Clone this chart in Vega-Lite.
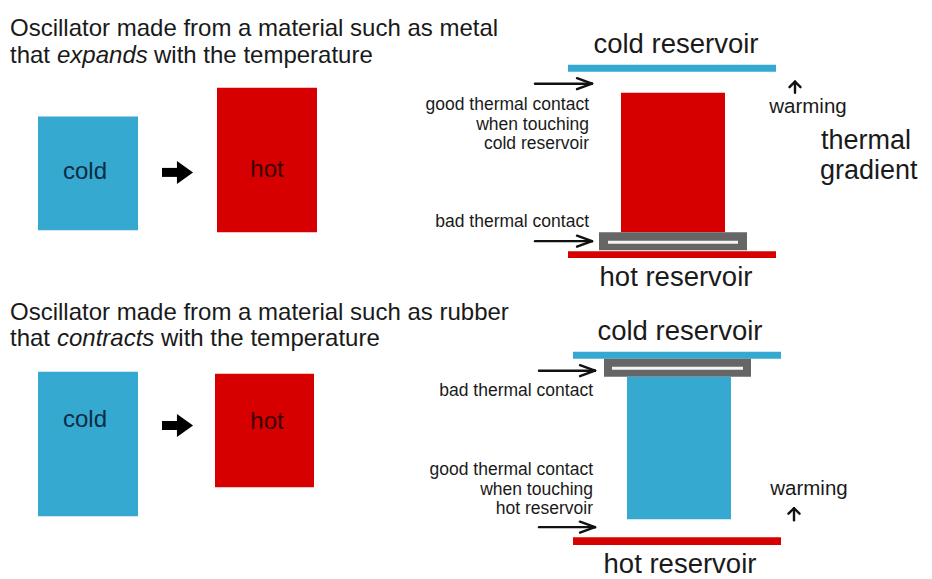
{
  "$schema": "https://vega.github.io/schema/vega-lite/v6.json",
  "width": 932,
  "height": 579,
  "padding": 0,
  "autosize": {"type": "fit", "contains": "padding"},
  "background": "white",
  "config": {"view": {"stroke": null}, "text": {"font": "Liberation Sans"}},
  "datasets": {
    "rects": [
      {"part": "top", "item": "cold oscillator", "kind": "cold", "x": 38, "x2": 138, "y": 117, "y2": 231},
      {"part": "top", "item": "hot oscillator", "kind": "hot", "x": 217, "x2": 317, "y": 88, "y2": 233},
      {"part": "top", "item": "cold reservoir", "kind": "cold", "x": 568, "x2": 776, "y": 65, "y2": 72},
      {"part": "top", "item": "block", "kind": "hot", "x": 621, "x2": 725, "y": 93, "y2": 233},
      {"part": "top", "item": "pad", "kind": "pad", "x": 599, "x2": 747, "y": 233, "y2": 251},
      {"part": "top", "item": "pad gap", "kind": "gap", "x": 608, "x2": 738, "y": 241.5, "y2": 244.5},
      {"part": "top", "item": "hot reservoir", "kind": "hot", "x": 568, "x2": 776, "y": 252, "y2": 259},
      {"part": "bottom", "item": "cold oscillator", "kind": "cold", "x": 38, "x2": 138, "y": 373, "y2": 518},
      {"part": "bottom", "item": "hot oscillator", "kind": "hot", "x": 215, "x2": 314, "y": 375, "y2": 489},
      {"part": "bottom", "item": "cold reservoir", "kind": "cold", "x": 573, "x2": 781, "y": 353, "y2": 360},
      {"part": "bottom", "item": "pad", "kind": "pad", "x": 604, "x2": 751, "y": 360, "y2": 378},
      {"part": "bottom", "item": "pad gap", "kind": "gap", "x": 612, "x2": 743, "y": 368, "y2": 371},
      {"part": "bottom", "item": "block", "kind": "cold", "x": 627, "x2": 731, "y": 378, "y2": 521},
      {"part": "bottom", "item": "hot reservoir", "kind": "hot", "x": 573, "x2": 781, "y": 539, "y2": 547}
    ],
    "arrows": [
      {"x": 535, "y": 84, "x2": 592, "y2": 84},
      {"x": 592, "y": 84, "x2": 577, "y2": 78.5},
      {"x": 592, "y": 84, "x2": 577, "y2": 89.5},
      {"x": 535, "y": 242, "x2": 592, "y2": 242},
      {"x": 592, "y": 242, "x2": 577, "y2": 236.5},
      {"x": 592, "y": 242, "x2": 577, "y2": 247.5},
      {"x": 539, "y": 372, "x2": 595, "y2": 372},
      {"x": 595, "y": 372, "x2": 580, "y2": 366.5},
      {"x": 595, "y": 372, "x2": 580, "y2": 377.5},
      {"x": 539, "y": 529, "x2": 595, "y2": 529},
      {"x": 595, "y": 529, "x2": 580, "y2": 523.5},
      {"x": 595, "y": 529, "x2": 580, "y2": 534.5},
      {"x": 795, "y": 93, "x2": 795, "y2": 82},
      {"x": 795, "y": 82, "x2": 789.5, "y2": 87.5},
      {"x": 795, "y": 82, "x2": 800.5, "y2": 87.5},
      {"x": 794, "y": 522, "x2": 794, "y2": 510},
      {"x": 794, "y": 510, "x2": 788.5, "y2": 515.5},
      {"x": 794, "y": 510, "x2": 799.5, "y2": 515.5}
    ],
    "blockArrows": [
      {"x": 162, "x2": 180, "y": 173, "hx": 185},
      {"x": 162, "x2": 180, "y": 427, "hx": 185}
    ],
    "titles": [
      {"text": "Oscillator made from a material such as metal", "x": 10, "y": 36},
      {"text": "that", "x": 10, "y": 63},
      {"text": "with the temperature", "x": 154, "y": 63},
      {"text": "Oscillator made from a material such as rubber", "x": 10, "y": 321},
      {"text": "that", "x": 10, "y": 347},
      {"text": "with the temperature", "x": 161, "y": 347}
    ],
    "italics": [
      {"text": "expands", "x": 57, "y": 63},
      {"text": "contracts", "x": 57, "y": 347}
    ],
    "reservoirs": [
      {"text": "cold reservoir", "x": 676, "y": 53},
      {"text": "hot reservoir", "x": 676, "y": 287},
      {"text": "cold reservoir", "x": 680, "y": 341},
      {"text": "hot reservoir", "x": 680, "y": 575}
    ],
    "notes": [
      {"text": "good thermal contact", "x": 589, "y": 110},
      {"text": "when touching", "x": 589, "y": 130},
      {"text": "cold reservoir", "x": 589, "y": 150},
      {"text": "bad thermal contact", "x": 589, "y": 228},
      {"text": "bad thermal contact", "x": 593, "y": 397},
      {"text": "good thermal contact", "x": 593, "y": 477},
      {"text": "when touching", "x": 593, "y": 497},
      {"text": "hot reservoir", "x": 593, "y": 516}
    ],
    "warming": [
      {"text": "warming", "x": 808, "y": 113},
      {"text": "warming", "x": 809, "y": 497}
    ],
    "gradient": [
      {"text": "thermal", "x": 821, "y": 150},
      {"text": "gradient", "x": 820, "y": 180}
    ],
    "coldLabels": [
      {"text": "cold", "x": 85, "y": 180},
      {"text": "cold", "x": 85, "y": 428}
    ],
    "hotLabels": [
      {"text": "hot", "x": 267, "y": 178},
      {"text": "hot", "x": 267, "y": 430}
    ]
  },
  "layer": [
    {
      "data": {"name": "rects"},
      "mark": {"type": "rect"},
      "encoding": {
        "x": {"field": "x", "type": "quantitative", "scale": {"domain": [0, 932], "nice": false, "zero": false}, "axis": null},
        "x2": {"field": "x2"},
        "y": {"field": "y", "type": "quantitative", "scale": {"domain": [0, 579], "nice": false, "zero": false, "reverse": true}, "axis": null},
        "y2": {"field": "y2"},
        "color": {"field": "kind", "type": "nominal", "scale": {"domain": ["cold", "hot", "pad", "gap"], "range": ["#35a9cf", "#d60000", "#666666", "#f4f4f4"]}, "legend": null}
      }
    },
    {
      "data": {"name": "arrows"},
      "mark": {"type": "rule", "color": "#111111", "strokeWidth": 2.4, "strokeCap": "round"},
      "encoding": {
        "x": {"field": "x", "type": "quantitative", "axis": null},
        "x2": {"field": "x2"},
        "y": {"field": "y", "type": "quantitative", "axis": null},
        "y2": {"field": "y2"}
      }
    },
    {
      "data": {"name": "blockArrows"},
      "mark": {"type": "rule", "color": "#000000", "strokeWidth": 9},
      "encoding": {
        "x": {"field": "x", "type": "quantitative", "axis": null},
        "x2": {"field": "x2"},
        "y": {"field": "y", "type": "quantitative", "axis": null}
      }
    },
    {
      "data": {"name": "blockArrows"},
      "mark": {"type": "point", "filled": true, "opacity": 1, "color": "#000000", "shape": "M-0.7,-1L0.7,0L-0.7,1Z", "size": 529, "strokeWidth": 2, "strokeJoin": "round"},
      "encoding": {
        "x": {"field": "hx", "type": "quantitative", "axis": null},
        "y": {"field": "y", "type": "quantitative", "axis": null}
      }
    },
    {
      "data": {"name": "titles"},
      "mark": {"type": "text", "align": "left", "baseline": "alphabetic", "fontSize": 24, "color": "#1a1a1a"},
      "encoding": {
        "x": {"field": "x", "type": "quantitative", "axis": null},
        "y": {"field": "y", "type": "quantitative", "axis": null},
        "text": {"field": "text"}
      }
    },
    {
      "data": {"name": "italics"},
      "mark": {"type": "text", "align": "left", "baseline": "alphabetic", "fontSize": 24, "fontStyle": "italic", "color": "#1a1a1a"},
      "encoding": {
        "x": {"field": "x", "type": "quantitative", "axis": null},
        "y": {"field": "y", "type": "quantitative", "axis": null},
        "text": {"field": "text"}
      }
    },
    {
      "data": {"name": "reservoirs"},
      "mark": {"type": "text", "align": "center", "baseline": "alphabetic", "fontSize": 27.5, "color": "#1a1a1a"},
      "encoding": {
        "x": {"field": "x", "type": "quantitative", "axis": null},
        "y": {"field": "y", "type": "quantitative", "axis": null},
        "text": {"field": "text"}
      }
    },
    {
      "data": {"name": "notes"},
      "mark": {"type": "text", "align": "right", "baseline": "alphabetic", "fontSize": 17.5, "color": "#1a1a1a"},
      "encoding": {
        "x": {"field": "x", "type": "quantitative", "axis": null},
        "y": {"field": "y", "type": "quantitative", "axis": null},
        "text": {"field": "text"}
      }
    },
    {
      "data": {"name": "warming"},
      "mark": {"type": "text", "align": "center", "baseline": "alphabetic", "fontSize": 20.5, "color": "#1a1a1a"},
      "encoding": {
        "x": {"field": "x", "type": "quantitative", "axis": null},
        "y": {"field": "y", "type": "quantitative", "axis": null},
        "text": {"field": "text"}
      }
    },
    {
      "data": {"name": "gradient"},
      "mark": {"type": "text", "align": "left", "baseline": "alphabetic", "fontSize": 27, "color": "#1a1a1a"},
      "encoding": {
        "x": {"field": "x", "type": "quantitative", "axis": null},
        "y": {"field": "y", "type": "quantitative", "axis": null},
        "text": {"field": "text"}
      }
    },
    {
      "data": {"name": "coldLabels"},
      "mark": {"type": "text", "align": "center", "baseline": "alphabetic", "fontSize": 24, "color": "#0b2c44"},
      "encoding": {
        "x": {"field": "x", "type": "quantitative", "axis": null},
        "y": {"field": "y", "type": "quantitative", "axis": null},
        "text": {"field": "text"}
      }
    },
    {
      "data": {"name": "hotLabels"},
      "mark": {"type": "text", "align": "center", "baseline": "alphabetic", "fontSize": 24, "color": "#3d0000"},
      "encoding": {
        "x": {"field": "x", "type": "quantitative", "axis": null},
        "y": {"field": "y", "type": "quantitative", "axis": null},
        "text": {"field": "text"}
      }
    }
  ]
}
